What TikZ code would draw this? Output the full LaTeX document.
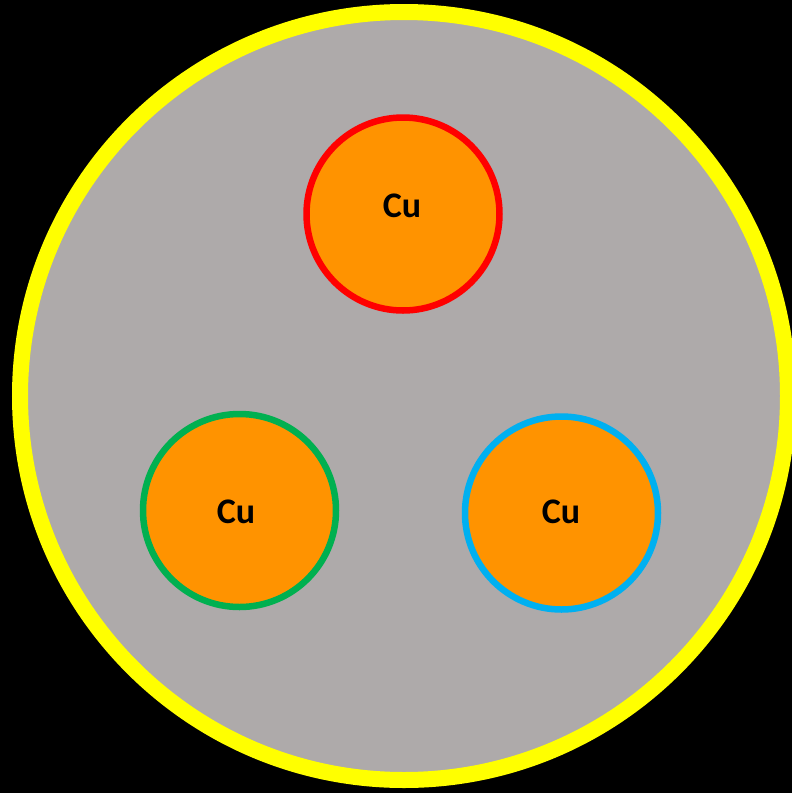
\documentclass[tikz,border=0pt]{standalone}
\usepackage{fontspec}
\setmainfont{Carlito}
\usepackage{xcolor}
\definecolor{bg}{RGB}{0, 0, 0}
\definecolor{shell}{RGB}{255, 255, 0}
\definecolor{matrix}{RGB}{174, 170, 170}
\definecolor{copper}{RGB}{255, 147, 0}
\definecolor{redwire}{RGB}{255, 0, 0}
\definecolor{greenwire}{RGB}{0, 176, 80}
\definecolor{bluewire}{RGB}{0, 176, 240}
\tikzset{
    sheath/.style={circle, draw=shell, line width=16pt, fill=matrix, minimum size=768pt, inner sep=0pt},
    core/.style={circle, line width=6.5pt, fill=copper, minimum size=193pt, inner sep=0pt},
    lbl/.style={font=\fontsize{36pt}{40pt}\selectfont\bfseries, text=black, inner sep=0pt}
}
\begin{document}
\begin{tikzpicture}[x=1pt, y=-1pt]
        \useasboundingbox (0,0) rectangle (792,793);
        \fill[bg] (0,0) rectangle (792,793);
        \node[sheath] (cable) at (404,396) {};
        \node[core, draw=redwire] (c1) at (403,214) {};
        \node[core, draw=greenwire] (c2) at (239.5,510.5) {};
        \node[core, draw=bluewire] (c3) at (561.5,513) {};
        \node[lbl] (t1) at (402,206) {Cu};
        \node[lbl] (t2) at (236,512) {Cu};
        \node[lbl] (t3) at (561,512) {Cu};
    \end{tikzpicture}
\end{document}
